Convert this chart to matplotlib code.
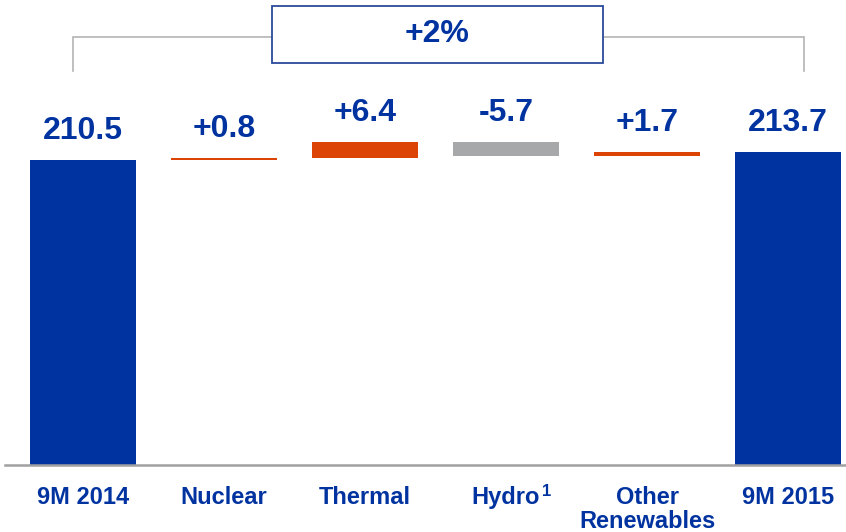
import numpy as np
import matplotlib
matplotlib.use("Agg")
import matplotlib.pyplot as plt
from matplotlib.patches import Rectangle

plt.rcParams['font.family'] = ['Liberation Sans', 'DejaVu Sans']
plt.rcParams['font.weight'] = 'bold'

# production bridge, TWh
categories = ["9M 2014", "Nuclear", "Thermal", "Hydro", "Other\nRenewables", "9M 2015"]
footnotes = {"Hydro": "1"}
start_total = 210.5
changes = [0.8, 6.4, -5.7, 1.7]
end_total = 213.7
change_text = "+2%"

blue = "#0033a0"
orange = "#dc4405"
grey = "#a7a8aa"

fig = plt.figure(figsize=(8.46, 5.32), dpi=100)
ax = fig.add_axes([5/846, 67/532, 841/846, 465/532])
ax.set_xlim(-0.553, 5.411)
ax.set_ylim(88.5, 274.5)

x = np.arange(len(categories))
w = 0.75

# totals
for xi, val in [(0, start_total), (5, end_total)]:
    ax.bar(xi, val - 88.5, bottom=88.5, width=w, color=blue, zorder=2)
    ax.annotate(f"{val:.1f}", (xi, val), xytext=(0, 10), textcoords="offset points",
                ha="center", va="bottom", fontsize=23, color=blue, fontweight="bold")

# floating steps
level = start_total
for i, d in enumerate(changes):
    xi = i + 1
    bottom = level if d >= 0 else level + d
    color = orange if d >= 0 else grey
    ax.bar(xi, abs(d), bottom=bottom, width=w, color=color, zorder=2)
    top = bottom + abs(d)
    ax.annotate(f"{d:+.1f}", (xi, top), xytext=(0, 10), textcoords="offset points",
                ha="center", va="bottom", fontsize=23, color=blue, fontweight="bold")
    level += d

# bracket with growth box
ax.plot([-0.071, -0.071, 5.113, 5.113], [246.1, 259.7, 259.7, 246.1],
        color="#b4b4b4", lw=1.2, zorder=1, solid_joinstyle="miter")
ax.add_patch(Rectangle((1.34, 249.3), 3.688 - 1.34, 272.1 - 249.3,
                       facecolor="white", edgecolor="#2a4a9a", lw=1.3, zorder=3))
ax.text((1.34 + 3.688) / 2, 260.9, change_text, ha="center", va="center",
        fontsize=23, color=blue, fontweight="bold", zorder=4)

for s in ["top", "right", "left"]:
    ax.spines[s].set_visible(False)
ax.spines["bottom"].set_color("#a0a0a0")
ax.spines["bottom"].set_linewidth(1.8)
ax.set_yticks([])
ax.set_xticks(x)
ax.set_xticklabels(categories, fontsize=17, color=blue, fontweight="bold",
                   va="top", linespacing=1.05)
ax.tick_params(axis="x", length=0, pad=15)

# superscript footnote markers next to tick labels
fig.canvas.draw()
for lbl in ax.get_xticklabels():
    mark = footnotes.get(lbl.get_text())
    if mark:
        bb = lbl.get_window_extent()
        fig.text(bb.x1 + 2, bb.y1 + 2, mark, transform=None,
                 ha="left", va="top", fontsize=12, color=blue, fontweight="bold")

fig.savefig("out.png", dpi=100)
